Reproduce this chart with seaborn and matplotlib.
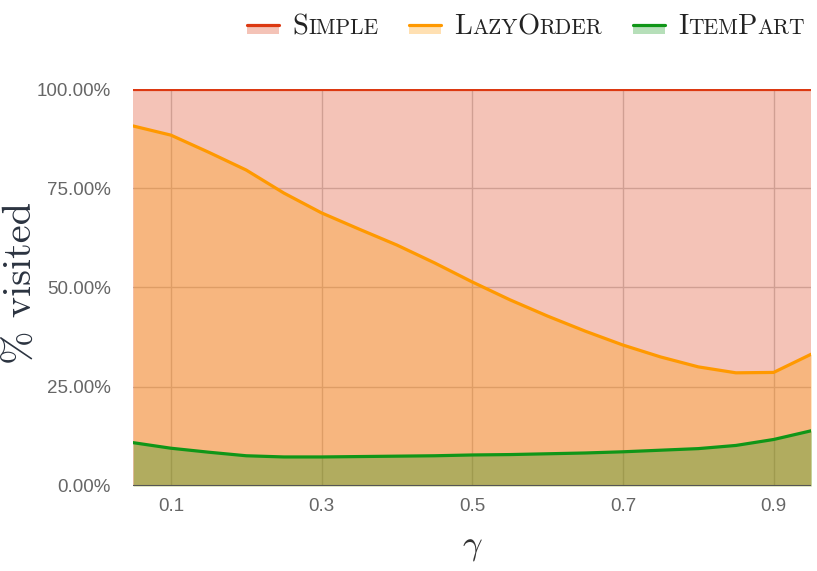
import matplotlib
matplotlib.use('Agg')
import matplotlib.pyplot as plt
import seaborn as sns
import pandas as pd
from matplotlib.offsetbox import TextArea, HPacker, DrawingArea, AnchoredOffsetbox
from matplotlib.patches import Rectangle
from matplotlib.lines import Line2D
from matplotlib.ticker import FuncFormatter

# data
gamma = [0.05, 0.10, 0.15, 0.20, 0.25, 0.30, 0.35, 0.40, 0.45, 0.50,
         0.55, 0.60, 0.65, 0.70, 0.75, 0.80, 0.85, 0.90, 0.95]
simple = [100.0] * 19
lazy_order = [90.7, 88.4, 84.1, 79.6, 73.8, 68.8, 64.7, 60.7, 56.2, 51.4,
              46.9, 42.8, 39.0, 35.5, 32.5, 30.0, 28.5, 28.6, 33.2]
item_part = [10.9, 9.5, 8.5, 7.6, 7.3, 7.3, 7.4, 7.5, 7.6, 7.8,
             7.9, 8.1, 8.3, 8.6, 9.0, 9.4, 10.2, 11.7, 13.9]

series_names = ['Simple', 'LazyOrder', 'ItemPart']
colors = ['#dc3912', '#ff9900', '#109618']

df = pd.DataFrame({'gamma': gamma, 'Simple': simple,
                   'LazyOrder': lazy_order, 'ItemPart': item_part})

sns.set_style('white')
plt.rcParams['mathtext.fontset'] = 'cm'

fig = plt.figure(figsize=(8.17, 5.71), dpi=100)
ax = fig.add_axes([0.163, 0.149, 0.830, 0.695])

for name, col in zip(series_names, colors):
    ax.fill_between(df['gamma'], 0, df[name], color=col, alpha=0.3, lw=0, zorder=1)
for name, col in zip(series_names, colors):
    sns.lineplot(data=df, x='gamma', y=name, color=col, lw=2.3, ax=ax, zorder=3)

ax.axhline(0, color='#555555', lw=1.5, zorder=4)

ax.set_xlim(0.05, 0.95)
ax.set_ylim(0, 100)
ax.set_xticks([0.1, 0.3, 0.5, 0.7, 0.9])
ax.set_yticks([0, 25, 50, 75, 100])
ax.yaxis.set_major_formatter(FuncFormatter(lambda v, p: f'{v:.2f}%'))
ax.grid(True, color='#cccccc', lw=1, zorder=0)
ax.set_axisbelow(True)
for s in ax.spines.values():
    s.set_visible(False)
ax.tick_params(axis='both', length=0, labelsize=13.5, labelcolor='#666666')
ax.tick_params(axis='y', pad=16)
ax.tick_params(axis='x', pad=9)
for lbl in ax.get_xticklabels() + ax.get_yticklabels():
    lbl.set_family(['Liberation Sans', 'DejaVu Sans'])

ax.set_xlabel(r'$\gamma$', fontsize=25, color='#333333', labelpad=10)
ax.set_ylabel('')
fig.text(22 / 817, 1 - 283 / 571, '% visited', rotation=90, fontsize=29,
         color='#2b3340', family='cmr10', ha='center', va='center')

# legend with small caps labels
def small_caps(word):
    parts = []
    i = 0
    while i < len(word):
        j = i
        if word[i].isupper():
            parts.append(TextArea(word[i], textprops=dict(size=20.5, family='cmr10', color='#222222')))
            i += 1
        else:
            while j < len(word) and word[j].islower():
                j += 1
            parts.append(TextArea(word[i:j].upper(), textprops=dict(size=15.5, family='cmr10', color='#222222')))
            i = j
    return HPacker(children=parts, align='baseline', pad=0, sep=0)

def handle(col):
    da = DrawingArea(23, 9, 0, 0)
    da.add_artist(Rectangle((0, 0), 23, 6, color=col, alpha=0.3, lw=0))
    da.add_artist(Line2D([0, 23], [6, 6], color=col, lw=2.3))
    return da

items = []
for name, col in zip(series_names, colors):
    items.append(HPacker(children=[handle(col), small_caps(name)], align='center', pad=0, sep=9.5))
legend_box = HPacker(children=items, align='center', pad=0, sep=22)
anchored = AnchoredOffsetbox(loc='upper right', child=legend_box, frameon=False,
                             bbox_to_anchor=(0.992, 0.985), bbox_transform=fig.transFigure,
                             borderpad=0)
fig.add_artist(anchored)

fig.savefig('out.png', dpi=100)
